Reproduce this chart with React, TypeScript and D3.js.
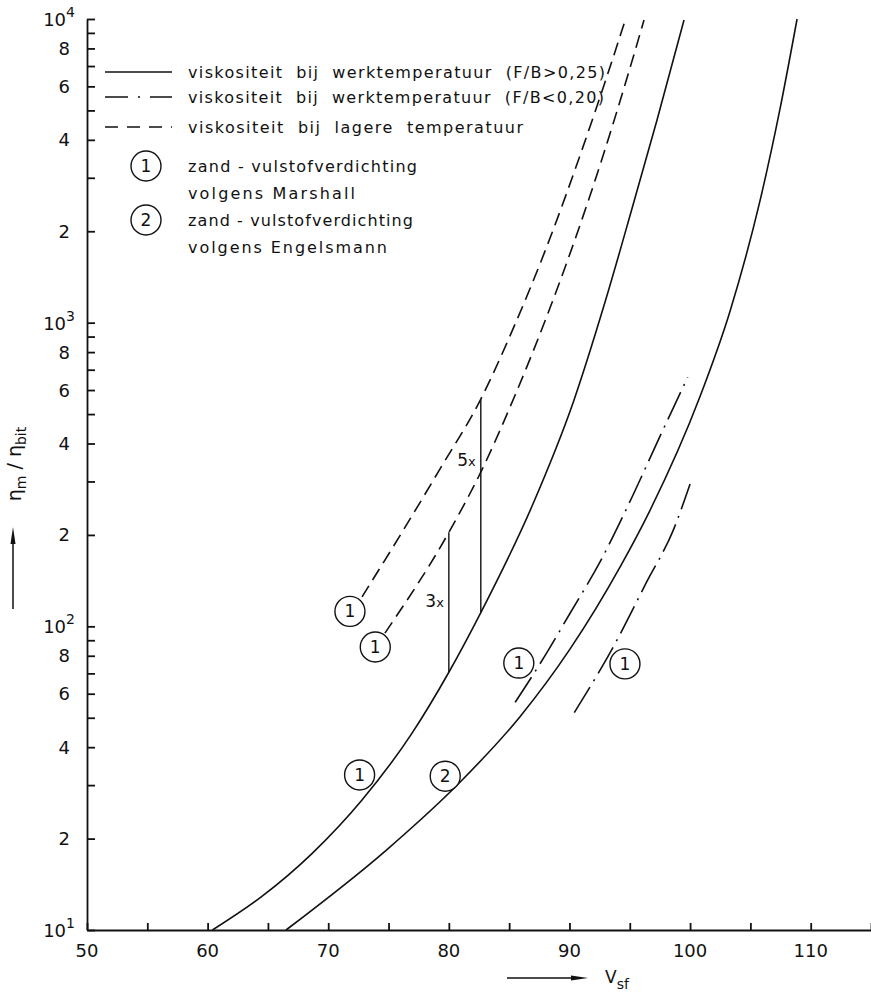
import React, { useRef, useEffect } from 'react';
import * as d3 from 'd3';

// curves: [Vsf, eta_m / eta_bit]
const solidMarshall = [[60.4, 10], [64.5, 12.9], [68.65, 17.85], [72.8, 26.8], [76.95, 44.5], [80, 70.6], [82.65, 111], [86.9, 249], [90.3, 545], [92.95, 1169], [95.27, 2441], [97.26, 4650], [99.5, 9925]];
const solidEngelsmann = [[66.5, 10], [74.8, 18.3], [80.9, 30.6], [85.9, 50.4], [90.04, 84.1], [94.2, 157], [96.7, 242], [100.8, 568], [103.3, 1087], [105.8, 2522], [107.46, 5066], [108.87, 10000]];
const dashedUpper = [[72.8, 125], [75.95, 199], [79.27, 330], [82.65, 560], [85.32, 954], [88.39, 1899], [90.87, 3549], [93.36, 6944], [94.6, 9850]];
const dashedLower = [[74.7, 95], [80, 204], [82.65, 322], [85.49, 577], [88.39, 1119], [91.7, 2617], [95.85, 8940], [96.18, 9925]];
const dashDotLeft = [[85.5, 56.2], [88, 80.4], [90, 109.6], [92.5, 162], [95, 257], [97.5, 422], [99.8, 661]];
const dashDotRight = [[90.4, 52], [93.8, 88], [96.4, 140], [98.6, 207], [100.0, 294]];

// circled markers on the curves
const markerX = [71.8, 73.9, 72.6, 79.7, 85.8, 94.6];
const markerY = [112, 85.5, 32.4, 32.1, 75.7, 75.2];
const markerText = ['1', '1', '1', '2', '1', '1'];

// ratio brackets: x, lower value, upper value, label, label y
const ratioX = [80.0, 82.65];
const ratioLow = [70.6, 111];
const ratioHigh = [204, 560];
const ratioText = ['3', '5'];
const ratioLabelY = [121, 354];

const xTicks = d3.range(50, 116, 5);
const xLabels = [50, 60, 70, 80, 90, 100, 110];
const decades = [10, 100, 1000];
const yLabelMult = [2, 4, 6, 8];

const legendLines = [
  'viskositeit  bij  werktemperatuur  (F/B>0,25)',
  'viskositeit  bij  werktemperatuur  (F/B<0,20)',
  'viskositeit  bij  lagere  temperatuur',
];
const legendNotes = [
  ['1', 'zand - vulstofverdichting', 'volgens  Marshall'],
  ['2', 'zand - vulstofverdichting', 'volgens  Engelsmann'],
];

const FONT = 'DejaVu Sans';

const App = () => {
  const ref = useRef<SVGSVGElement>(null);

  useEffect(() => {
    const svg = d3.select(ref.current);
    svg.selectAll('*').remove();

    const x = d3.scaleLinear().domain([50, 115]).range([87, 871]);
    const y = d3.scaleLog().domain([10, 10000]).range([930, 19]);

    // Y axis
    const yTicks: number[] = [];
    decades.forEach(d => d3.range(1, 10).forEach(k => yTicks.push(d * k)));
    yTicks.push(10000);

    svg.append('g')
      .attr('transform', 'translate(87,0)')
      .call(d3.axisLeft(y).tickValues(yTicks).tickSize(-8).tickSizeOuter(0).tickFormat(() => ''))
      .call(g => g.selectAll('path,line').attr('stroke', '#111').attr('stroke-width', 1.8));

    // X axis
    svg.append('g')
      .attr('transform', 'translate(0,930)')
      .call(d3.axisBottom(x).tickValues(xTicks).tickSize(-7).tickSizeOuter(0).tickFormat(() => ''))
      .call(g => g.selectAll('path,line').attr('stroke', '#111').attr('stroke-width', 1.8));

    const labels = svg.append('g').attr('font-family', FONT).attr('fill', '#111');

    // y labels: powers of ten
    decades.concat([10000]).forEach((d, i) => {
      const t = labels.append('text')
        .attr('x', 75)
        .attr('y', y(d) + 7)
        .attr('text-anchor', 'end')
        .attr('font-size', 18);
      t.append('tspan').text('10');
      t.append('tspan').attr('dy', -9).attr('font-size', 14).text(String(i + 1));
    });
    decades.forEach(d => yLabelMult.forEach(k => {
      labels.append('text')
        .attr('x', 70)
        .attr('y', y(d * k) + 6.5)
        .attr('text-anchor', 'end')
        .attr('font-size', 18)
        .text(String(k));
    }));

    // x labels
    xLabels.forEach(v => {
      labels.append('text')
        .attr('x', x(v))
        .attr('y', 957)
        .attr('text-anchor', 'middle')
        .attr('font-size', 18)
        .text(String(v));
    });

    // curves
    const line = d3.line<number[]>()
      .x(d => x(d[0]))
      .y(d => y(d[1]))
      .curve(d3.curveMonotoneX);

    const curves: [number[][], string | null][] = [
      [solidMarshall, null],
      [solidEngelsmann, null],
      [dashedUpper, '13,7'],
      [dashedLower, '13,7'],
      [dashDotLeft, '30,7,2,7'],
      [dashDotRight, '30,7,2,7'],
    ];
    curves.forEach(([data, dash]) => {
      svg.append('path')
        .attr('d', line(data))
        .attr('fill', 'none')
        .attr('stroke', '#111')
        .attr('stroke-width', 1.6)
        .attr('stroke-dasharray', dash);
    });

    // ratio brackets
    ratioX.forEach((rx, i) => {
      svg.append('line')
        .attr('x1', x(rx)).attr('x2', x(rx))
        .attr('y1', y(ratioLow[i])).attr('y2', y(ratioHigh[i]))
        .attr('stroke', '#111').attr('stroke-width', 1.4);
      const t = labels.append('text')
        .attr('x', x(rx) - 5)
        .attr('y', y(ratioLabelY[i]) + 6)
        .attr('text-anchor', 'end')
        .attr('font-size', 17);
      t.append('tspan').text(ratioText[i]);
      t.append('tspan').attr('font-size', 13).text('x');
    });

    // circled markers (circle and digit in one group so the digit stays on top)
    const marks = svg.append('g').attr('font-family', FONT);
    const circled = (cx: number, cy: number, txt: string) => {
      marks.append('circle')
        .attr('cx', cx).attr('cy', cy).attr('r', 15)
        .attr('fill', '#fff').attr('stroke', '#111').attr('stroke-width', 1.4);
      marks.append('text')
        .attr('x', cx).attr('y', cy + 6)
        .attr('text-anchor', 'middle')
        .attr('font-size', 17)
        .attr('fill', '#111')
        .text(txt);
    };
    markerX.forEach((mx, i) => circled(x(mx), y(markerY[i]), markerText[i]));

    // legend
    const legendY = [72, 97, 127];
    const legendWidth = [417, 416, 335];
    const legendDash = [null, '23,10,2,10', '13,9'];
    legendLines.forEach((txt, i) => {
      svg.append('line')
        .attr('x1', 105).attr('x2', 172)
        .attr('y1', legendY[i]).attr('y2', legendY[i])
        .attr('stroke', '#111').attr('stroke-width', 1.6)
        .attr('stroke-dasharray', legendDash[i]);
      labels.append('text')
        .attr('x', 188).attr('y', legendY[i] + 6)
        .attr('font-size', 16)
        .attr('textLength', legendWidth[i])
        .attr('lengthAdjust', 'spacing')
        .attr('xml:space', 'preserve')
        .text(txt);
    });
    const noteY = [166, 220];
    const noteWidth = [[229, 167], [225, 199]];
    legendNotes.forEach(([num, l1, l2], i) => {
      circled(146, noteY[i], num);
      labels.append('text')
        .attr('x', 188).attr('y', noteY[i] + 6)
        .attr('font-size', 16)
        .attr('textLength', noteWidth[i][0])
        .attr('lengthAdjust', 'spacing')
        .text(l1);
      labels.append('text')
        .attr('x', 188).attr('y', noteY[i] + 33)
        .attr('font-size', 16)
        .attr('textLength', noteWidth[i][1])
        .attr('lengthAdjust', 'spacing')
        .text(l2);
    });

    // y axis title with arrow
    const yt = labels.append('text')
      .attr('transform', 'translate(21,464) rotate(-90)')
      .attr('text-anchor', 'middle')
      .attr('font-size', 19);
    yt.append('tspan').text('η');
    yt.append('tspan').attr('dy', 5).attr('font-size', 14).text('m');
    yt.append('tspan').attr('dy', -5).text(' / η');
    yt.append('tspan').attr('dy', 5).attr('font-size', 14).text('bit');

    svg.append('line')
      .attr('x1', 13).attr('x2', 13).attr('y1', 609).attr('y2', 540)
      .attr('stroke', '#111').attr('stroke-width', 1.5);
    svg.append('path')
      .attr('d', 'M13,527 L10.5,544 L15.5,544 Z')
      .attr('fill', '#111');

    // x axis title with arrow
    svg.append('line')
      .attr('x1', 507).attr('x2', 575).attr('y1', 978).attr('y2', 978)
      .attr('stroke', '#111').attr('stroke-width', 1.5);
    svg.append('path')
      .attr('d', 'M588,978 L571,975.5 L571,980.5 Z')
      .attr('fill', '#111');
    const xt = labels.append('text')
      .attr('x', 605).attr('y', 983)
      .attr('font-size', 17);
    xt.append('tspan').text('V');
    xt.append('tspan').attr('dy', 6).attr('font-size', 14).text('sf');
  }, []);

  return (
    <svg
      ref={ref}
      width={871}
      height={995}
      style={{ position: 'absolute', left: 0, top: 0, background: '#fff' }}
    />
  );
};

export default App;
